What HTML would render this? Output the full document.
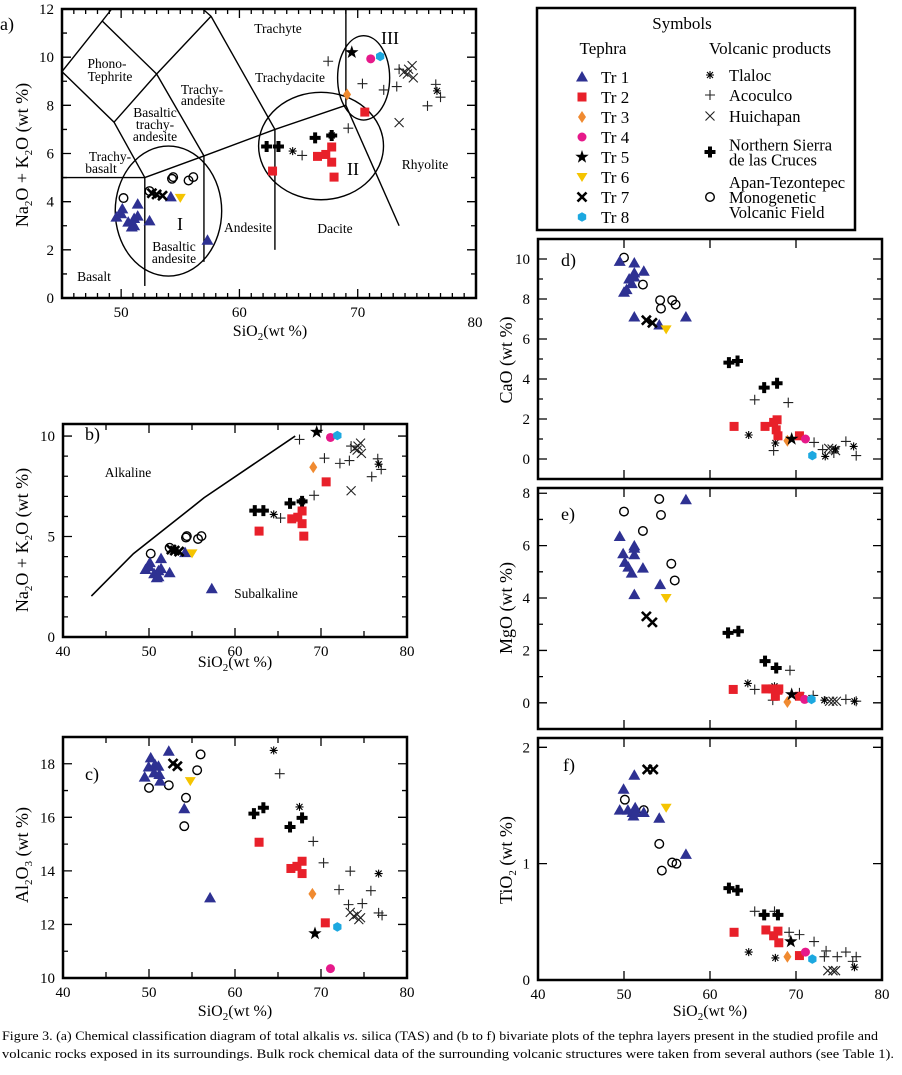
<!DOCTYPE html>
<html><head><meta charset="utf-8"><style>
html,body{margin:0;padding:0;background:#fff}
svg text{font-family:"Liberation Serif",serif;fill:#000}
</style></head><body>
<svg id="fig" xmlns="http://www.w3.org/2000/svg" width="902" height="1070" viewBox="0 0 902 1070">
<g id="legend">
<rect x="537" y="8" width="318" height="222" fill="none" stroke="#000" stroke-width="2.5"/>
<text x="682" y="29" font-size="17" text-anchor="middle">Symbols</text>
<text x="603" y="54" font-size="17" text-anchor="middle">Tephra</text>
<text x="770" y="54" font-size="17" text-anchor="middle">Volcanic products</text>
</g>
<g id="plots"></g>
<text x="2" y="1040" font-size="13" textLength="876" lengthAdjust="spacingAndGlyphs">Figure 3. (a) Chemical classification diagram of total alkalis <tspan font-style="italic">vs.</tspan> silica (TAS) and (b to f) bivariate plots of the tephra layers present in the studied profile and</text>
<text x="2" y="1058" font-size="13" textLength="892" lengthAdjust="spacingAndGlyphs">volcanic rocks exposed in its surroundings. Bulk rock chemical data of the surrounding volcanic structures were taken from several authors (see Table 1).</text>
</svg>
<script>
// ---- Data: [SiO2, value] pairs per series per panel ----
// Panel a & b: Na2O+K2O
const alk_tr1=[[49.6,3.36],[50.1,3.7],[50.0,3.5],[50.6,3.15],[50.9,2.95],[51.1,3.3],[51.4,3.9],[51.4,3.4],[51.1,3.0],[52.4,3.2],[54.2,4.2],[57.3,2.4]];
const alk_tr2=[[62.8,5.27],[66.6,5.88],[67.3,5.96],[67.8,6.27],[67.8,5.64],[68.0,5.02],[70.6,7.72]];
const alk_tr3=[[69.1,8.45]];
const alk_tr4=[[71.1,9.93]];
const alk_tr5=[[69.5,10.2]];
const alk_tr6=[[55.0,4.16]];
const alk_tr7=[[52.6,4.35],[53.0,4.3],[53.5,4.25]];
const alk_tr8=[[71.9,10.03]];
const alk_tlaloc=[[64.5,6.1],[76.7,8.6],[67.8,6.75]];
const alk_acoculco=[[67.5,9.83],[65.3,5.92],[69.2,7.05],[70.4,8.9],[72.2,8.64],[73.3,8.78],[73.5,9.5],[75.9,7.98],[76.6,8.87],[77.0,8.34]];
const alk_huichapan=[[73.5,7.28],[73.9,9.38],[74.3,9.5],[74.6,9.65],[74.7,9.14],[74.2,9.3]];
const alk_nsc=[[62.3,6.29],[63.3,6.29],[66.4,6.65],[67.8,6.75]];
const alk_apan=[[50.2,4.15],[52.4,4.44],[54.3,4.95],[54.4,5.02],[55.7,4.88],[56.1,5.02]];
// Panel c: Al2O3
const al_tr1=[[49.5,17.5],[49.96,17.88],[50.2,18.22],[50.7,17.97],[50.6,17.66],[51.1,17.91],[51.2,17.6],[51.3,17.35],[52.3,18.47],[54.1,16.32],[57.1,12.99]];
const al_tr2=[[62.8,15.07],[66.5,14.09],[67.2,14.17],[67.8,14.36],[67.8,13.9],[70.5,12.06]];
const al_tr3=[[69.0,13.14]];
const al_tr4=[[71.1,10.35]];
const al_tr5=[[69.3,11.66]];
const al_tr6=[[54.8,17.35]];
const al_tr7=[[52.8,18.01],[53.3,17.91]];
const al_tr8=[[71.9,11.91]];
const al_tlaloc=[[64.5,18.5],[67.5,16.39],[76.7,13.9]];
const al_acoculco=[[65.2,17.63],[69.1,15.1],[70.3,14.3],[73.4,13.99],[72.1,13.3],[75.8,13.26],[74.8,12.78],[73.2,12.74],[76.7,12.43],[77.1,12.34]];
const al_huichapan=[[73.4,12.45],[73.8,12.3],[74.4,12.18],[74.2,12.37],[74.6,12.25]];
const al_nsc=[[62.2,16.14],[63.3,16.36],[66.4,15.64],[67.8,15.98]];
const al_apan=[[50.0,17.1],[52.3,17.2],[54.3,16.73],[54.1,15.67],[55.6,17.76],[56.0,18.35]];
// Panel d: CaO
const ca_tr1=[[49.5,9.88],[50,8.34],[50.3,8.47],[50.6,9.0],[50.9,8.77],[51.2,9.8],[51.2,9.3],[51.2,9.1],[52.3,9.39],[51.2,7.1],[54.1,6.7],[57.2,7.1]];
const ca_tr2=[[62.8,1.63],[66.4,1.63],[67.4,1.83],[67.8,1.96],[67.7,1.46],[67.9,1.16],[70.4,1.16]];
const ca_tr3=[[69.0,0.91]];
const ca_tr4=[[71.1,1.0]];
const ca_tr5=[[69.5,1.0]];
const ca_tr6=[[54.9,6.48]];
const ca_tr7=[[52.6,6.94],[53.3,6.81]];
const ca_tr8=[[71.9,0.17]];
const ca_tlaloc=[[64.5,1.2],[67.6,0.8],[76.7,0.63],[73.4,0.13],[74.6,0.5]];
const ca_acoculco=[[65.2,2.96],[69.1,2.82],[67.4,0.42],[72.1,0.83],[75.8,0.88],[77.0,0.17],[74.4,0.3],[73.1,0.47]];
const ca_huichapan=[[74.2,0.5],[74.6,0.42],[73.8,0.53]];
const ca_nsc=[[62.2,4.82],[63.2,4.9],[66.3,3.57],[67.8,3.79]];
const ca_apan=[[50.0,10.07],[52.2,8.72],[54.2,7.94],[54.3,7.52],[55.6,7.94],[56.0,7.72]];
// Panel e: MgO
const mg_tr1=[[49.5,6.35],[49.9,5.69],[50.1,5.36],[50.5,5.18],[50.9,4.95],[51.2,5.99],[51.2,5.65],[51.2,5.9],[52.2,5.14],[51.2,4.13],[54.2,4.51],[57.2,7.75]];
const mg_tr2=[[62.7,0.51],[66.5,0.53],[67.3,0.53],[67.9,0.48],[67.6,0.25],[68.0,0.53],[70.4,0.25]];
const mg_tr3=[[69.0,0.03]];
const mg_tr4=[[71.0,0.13]];
const mg_tr5=[[69.5,0.32]];
const mg_tr6=[[54.9,4.0]];
const mg_tr7=[[52.6,3.3],[53.3,3.07]];
const mg_tr8=[[71.8,0.13]];
const mg_tlaloc=[[64.4,0.74],[67.5,0.63],[76.8,0.06],[73.3,0.1]];
const mg_acoculco=[[65.2,0.51],[69.3,1.24],[67.3,0.1],[72.0,0.28],[75.8,0.13],[77.0,0.06],[70.4,0.38]];
const mg_huichapan=[[73.9,0.06],[74.3,0.06],[74.7,0.06]];
const mg_nsc=[[62.1,2.67],[63.3,2.73],[66.4,1.59],[67.7,1.33]];
const mg_apan=[[50.0,7.3],[52.2,6.56],[54.1,7.78],[54.3,7.17],[55.5,5.31],[55.9,4.67]];
// Panel f: TiO2
const ti_tr1=[[49.5,1.46],[49.95,1.64],[50.45,1.46],[51.0,1.44],[51.3,1.48],[51.1,1.41],[51.4,1.44],[51.2,1.76],[52.3,1.44],[54.1,1.39],[57.2,1.08]];
const ti_tr2=[[62.8,0.41],[66.5,0.43],[67.4,0.38],[67.9,0.42],[68.0,0.32],[70.4,0.21]];
const ti_tr3=[[69.0,0.2]];
const ti_tr4=[[71.1,0.24]];
const ti_tr5=[[69.4,0.33]];
const ti_tr6=[[54.9,1.48]];
const ti_tr7=[[52.7,1.81],[53.4,1.81]];
const ti_tr8=[[71.9,0.18]];
const ti_tlaloc=[[64.5,0.24],[67.6,0.19],[76.8,0.11]];
const ti_acoculco=[[65.2,0.59],[67.5,0.59],[69.2,0.41],[70.4,0.39],[72.1,0.33],[73.5,0.25],[74.8,0.2],[75.8,0.24],[77.0,0.2],[73.3,0.2],[76.6,0.16]];
const ti_huichapan=[[73.7,0.08],[74.3,0.08],[74.6,0.08]];
const ti_nsc=[[62.2,0.79],[63.2,0.77],[66.3,0.56],[67.9,0.56]];
const ti_apan=[[50.1,1.55],[52.3,1.46],[54.1,1.17],[54.4,0.94],[55.6,1.01],[56.1,1.0]];
// TAS field boundaries and alkaline line
const tas_lines=[
 [[45,5],[52,5]],[[52,0.5],[52,5]],[[52,5],[57,5.9],[63,7],[69,8]],[[57,1.5],[57,5.9]],[[63,2],[63,7]],
 [[69,8],[69,12]],[[69,8],[73.5,3]],[[45,9.4],[49.4,7.3],[52,5]],[[49.4,7.3],[53,9.3],[57.6,11.7]],
 [[53,9.3],[57,5.9]],[[57.6,11.7],[63,7]],[[45,9.4],[48.4,11.5],[49.2,12]],[[48.4,11.5],[53,9.3]],[[57.6,11.7],[56.9,12]]];
const tas_ellipses=[[54.0,3.61,4.5,2.7],[66.9,6.31,5.28,2.23],[70.5,9.14,2.2,1.75]];
const alk_boundary=[[43.3,2.04],[48.2,4.15],[54.8,6.38],[56.4,6.93],[67.0,10.0]];

const NS='http://www.w3.org/2000/svg';
const root=document.getElementById('plots');
function mk(tag,attrs,parent){const e=document.createElementNS(NS,tag);for(const k in attrs)e.setAttribute(k,attrs[k]);(parent||root).appendChild(e);return e;}
const C={tr1:'#2e3192',tr2:'#e8202a',tr3:'#f08a30',tr4:'#e6198a',tr6:'#f5c400',tr8:'#1ca8e0'};
function marker(type,cx,cy,g){
 let e;
 if(type==='tr1'){e=mk('polygon',{points:`${cx},${cy-6} ${cx-6},${cy+4.5} ${cx+6},${cy+4.5}`,fill:C.tr1},g);}
 else if(type==='tr2'){e=mk('rect',{x:cx-4.5,y:cy-4.5,width:9,height:9,fill:C.tr2},g);}
 else if(type==='tr3'){e=mk('polygon',{points:`${cx},${cy-6} ${cx+4},${cy} ${cx},${cy+6} ${cx-4},${cy}`,fill:C.tr3},g);}
 else if(type==='tr4'){e=mk('circle',{cx:cx,cy:cy,r:4.5,fill:C.tr4},g);}
 else if(type==='tr5'){let p=[];for(let i=0;i<10;i++){const r=i%2?2.8:7,a=-Math.PI/2+i*Math.PI/5;p.push((cx+r*Math.cos(a)).toFixed(1)+','+(cy+r*Math.sin(a)).toFixed(1));}e=mk('polygon',{points:p.join(' '),fill:'#000'},g);}
 else if(type==='tr6'){e=mk('polygon',{points:`${cx-5.5},${cy-4} ${cx+5.5},${cy-4} ${cx},${cy+5}`,fill:C.tr6},g);}
 else if(type==='tr7'){e=mk('path',{d:`M${cx-4.5},${cy-4.5}L${cx+4.5},${cy+4.5}M${cx+4.5},${cy-4.5}L${cx-4.5},${cy+4.5}`,stroke:'#000','stroke-width':2.6,fill:'none'},g);}
 else if(type==='tr8'){let p=[];for(let i=0;i<6;i++){const a=i*Math.PI/3+Math.PI/6;p.push((cx+4.8*Math.cos(a)).toFixed(1)+','+(cy+4.8*Math.sin(a)).toFixed(1));}e=mk('polygon',{points:p.join(' '),fill:C.tr8},g);}
 else if(type==='tlaloc'){e=mk('path',{d:`M${cx-4},${cy}L${cx+4},${cy}M${cx},${cy-4}L${cx},${cy+4}M${cx-3},${cy-3}L${cx+3},${cy+3}M${cx+3},${cy-3}L${cx-3},${cy+3}`,stroke:'#000','stroke-width':1.1,fill:'none'},g);}
 else if(type==='acoculco'){e=mk('path',{d:`M${cx-5},${cy}L${cx+5},${cy}M${cx},${cy-5}L${cx},${cy+5}`,stroke:'#222','stroke-width':1.1,fill:'none'},g);}
 else if(type==='huichapan'){e=mk('path',{d:`M${cx-4.5},${cy-4.5}L${cx+4.5},${cy+4.5}M${cx+4.5},${cy-4.5}L${cx-4.5},${cy+4.5}`,stroke:'#222','stroke-width':1.1,fill:'none'},g);}
 else if(type==='nsc'){e=mk('path',{d:`M${cx-5.5},${cy}L${cx+5.5},${cy}M${cx},${cy-5.5}L${cx},${cy+5.5}`,stroke:'#000','stroke-width':4,fill:'none'},g);}
 else if(type==='apan'){e=mk('circle',{cx:cx,cy:cy,r:4.3,fill:'none',stroke:'#000','stroke-width':1.4},g);}
 return e;
}
function axis(P,name){
 const g=mk('g',{});
 
 
 P.sx=v=>P.x0+(v-P.xmin)/(P.xmax-P.xmin)*(P.x1-P.x0);
 P.sy=v=>P.y1-(v-P.ymin)/(P.ymax-P.ymin)*(P.y1-P.y0);
 P.g=g;
 const box=mk('rect',{x:P.x0,y:P.y0,width:P.x1-P.x0,height:P.y1-P.y0,fill:'none',stroke:'#000','stroke-width':2.5},g);
 
 
 let d='';
 for(const t of P.xt){const x=P.sx(t[0]),L=t[1];d+=`M${x},${P.y1}v${-L}M${x},${P.y0}v${L}`;}
 for(const t of P.yt){const y=P.sy(t[0]),L=t[1];d+=`M${P.x0},${y}h${L}M${P.x1},${y}h${-L}`;}
 mk('path',{d:d,stroke:'#000','stroke-width':1.3,fill:'none'},g);
 for(const v of P.xl){const t=mk('text',{x:P.sx(v),y:P.y1+19,'font-size':15,'text-anchor':'middle'},g);t.textContent=v;}
 for(const v of P.yl){const t=mk('text',{x:P.x0-8,y:P.sy(v)+5,'font-size':15,'text-anchor':'end'},g);t.textContent=v;}
 return g;
}
function ticks(a,b,step,major,ML,mL){const r=[];for(let v=a;v<=b+1e-9;v+=step){v=Math.round(v*1000)/1000;r.push([v,major.some(m=>Math.abs(m-v)<1e-6)?ML:mL]);}return r;}
function plotSeries(P,type,data,pname){
 const g=mk('g',{},P.g);
 
 
 for(const p of data){const m=marker(type,P.sx(p[0]),P.sy(p[1]),g);}
}
function label(txt,x,y,size,parent,name,anchor){const t=mk('text',{x:x,y:y,'font-size':size,'text-anchor':anchor||'middle'},parent);t.textContent=txt;return t;}
function richLabel(html,x,y,size,rot,name){const t=mk('text',{x:x,y:y,'font-size':size,'text-anchor':'middle'});if(rot)t.setAttribute('transform',`rotate(-90 ${x} ${y})`);t.innerHTML=html;return t;}
const SUB=n=>`<tspan font-size="11" dy="4">${n}</tspan><tspan dy="-4">`;
const ALK=`Na${SUB(2)}O + K${SUB(2)}O (wt %)</tspan></tspan>`;
const SIO=`SiO${SUB(2)}(wt %)</tspan>`;

// Panel a
const A={x0:62,x1:476,y0:9,y1:298,xmin:45,xmax:80,ymin:0,ymax:12,
 xt:ticks(45,80,1,[50,60,70],9,5),yt:ticks(0,12,1,[0,2,4,6,8,10,12],9,5),xl:[50,60,70],yl:[0,2,4,6,8,10,12]};
axis(A,'panel-a-tas');
for(const ln of tas_lines){const l=mk('polyline',{points:ln.map(p=>A.sx(p[0])+','+A.sy(p[1])).join(' '),fill:'none',stroke:'#000','stroke-width':1.4},A.g);}
for(const e of tas_ellipses){const el=mk('ellipse',{cx:A.sx(e[0]),cy:A.sy(e[1]),rx:A.sx(e[0]+e[2])-A.sx(e[0]),ry:A.sy(e[1])-A.sy(e[1]+e[3]),fill:'none',stroke:'#000','stroke-width':1.4},A.g);}
label('80',475,327,15,A.g,'x-tick-label');
[['Trachyte',278,33],['Phono-',107,68],['Tephrite',110,81],['Trachy-',202,94],['andesite',203,105],['Basaltic',155,117],['trachy-',155,129],['andesite',155,141],['Trachydacite',290,82],['Trachy-',110,161],['basalt',101,173],['Basaltic',174,251],['andesite',174,263],['Andesite',248,232],['Dacite',335,233],['Rhyolite',425,169],['Basalt',94,281]].forEach(t=>label(t[0],t[1],t[2],13.5,A.g,'tas-field-label'));
label('I',180,230,18,A.g,'group-label-I');label('II',353,175,18,A.g,'group-label-II');label('III',390,44,18,A.g,'group-label-III');
label('a)',0,30,18,A.g,'panel-a-label','start');
richLabel(ALK,28,155,18,true,'panel-a-y-title');
richLabel(SIO,270,336,16,false,'panel-a-x-title');

// Panel b
const B={x0:63,x1:407,y0:424,y1:637,xmin:40,xmax:80,ymin:0,ymax:10.6,
 xt:ticks(40,80,5,[40,50,60,70,80],9,6),yt:ticks(0,10,1,[0,5,10],9,5),xl:[40,50,60,70,80],yl:[0,5,10]};
axis(B,'panel-b-alkali');
{const l=mk('polyline',{points:alk_boundary.map(p=>B.sx(p[0])+','+B.sy(p[1])).join(' '),fill:'none',stroke:'#000','stroke-width':1.6},B.g);}
label('Alkaline',128,477,13.5,B.g,'alkaline-label');label('Subalkaline',266,598,13.5,B.g,'subalkaline-label');
label('b)',85,440,18,B.g,'panel-b-label','start');
richLabel(ALK,28,540,18,true,'panel-b-y-title');
richLabel(SIO,235,667,16,false,'panel-b-x-title');

// Panel c
const Cc={x0:63,x1:407,y0:737,y1:978,xmin:40,xmax:80,ymin:10,ymax:19,
 xt:ticks(40,80,5,[40,50,60,70,80],9,6),yt:ticks(10,19,1,[10,12,14,16,18],9,5),xl:[40,50,60,70,80],yl:[10,12,14,16,18]};
axis(Cc,'panel-c-al2o3');
label('c)',85,780,18,Cc.g,'panel-c-label','start');
richLabel(`Al${SUB(2)}O${SUB(3)} (wt %)</tspan></tspan>`,28,855,18,true,'panel-c-y-title');
richLabel(SIO,235,1016,16,false,'panel-c-x-title');

// Panel d
const D={x0:538,x1:882,y0:239,y1:479,xmin:40,xmax:80,ymin:-1,ymax:11,
 xt:ticks(50,70,10,[50,60,70],9,9),yt:ticks(0,10,1,[0,2,4,6,8,10],9,5),xl:[],yl:[0,2,4,6,8,10]};
axis(D,'panel-d-cao');
label('d)',561,266,18,D.g,'panel-d-label','start');
richLabel('CaO (wt %)',512,360,18,true,'panel-d-y-title');

// Panel e
const E={x0:538,x1:882,y0:488,y1:729,xmin:40,xmax:80,ymin:-1,ymax:8.2,
 xt:ticks(50,70,10,[50,60,70],9,9),yt:ticks(0,8,1,[0,2,4,6,8],9,5),xl:[],yl:[0,2,4,6,8]};
axis(E,'panel-e-mgo');
label('e)',561,520,18,E.g,'panel-e-label','start');
richLabel('MgO (wt %)',512,608,18,true,'panel-e-y-title');

// Panel f
const F={x0:538,x1:882,y0:738,y1:980,xmin:40,xmax:80,ymin:0,ymax:2.08,
 xt:ticks(50,70,10,[50,60,70],9,9),yt:ticks(0,2,1,[0,1,2],9,9),xl:[40,50,60,70,80],yl:[0,1,2]};
axis(F,'panel-f-tio2');
label('f)',563,771,18,F.g,'panel-f-label','start');
richLabel(`TiO${SUB(2)} (wt %)</tspan>`,512,860,18,true,'panel-f-y-title');
richLabel(SIO,710,1016,16,false,'panel-f-x-title');

const order=['acoculco','huichapan','tlaloc','apan','nsc','tr1','tr2','tr3','tr4','tr5','tr6','tr7','tr8'];
const sets={
 a:{tr1:alk_tr1,tr2:alk_tr2,tr3:alk_tr3,tr4:alk_tr4,tr5:alk_tr5,tr6:alk_tr6,tr7:alk_tr7,tr8:alk_tr8,tlaloc:alk_tlaloc,acoculco:alk_acoculco,huichapan:alk_huichapan,nsc:alk_nsc,apan:alk_apan},
 c:{tr1:al_tr1,tr2:al_tr2,tr3:al_tr3,tr4:al_tr4,tr5:al_tr5,tr6:al_tr6,tr7:al_tr7,tr8:al_tr8,tlaloc:al_tlaloc,acoculco:al_acoculco,huichapan:al_huichapan,nsc:al_nsc,apan:al_apan},
 d:{tr1:ca_tr1,tr2:ca_tr2,tr3:ca_tr3,tr4:ca_tr4,tr5:ca_tr5,tr6:ca_tr6,tr7:ca_tr7,tr8:ca_tr8,tlaloc:ca_tlaloc,acoculco:ca_acoculco,huichapan:ca_huichapan,nsc:ca_nsc,apan:ca_apan},
 e:{tr1:mg_tr1,tr2:mg_tr2,tr3:mg_tr3,tr4:mg_tr4,tr5:mg_tr5,tr6:mg_tr6,tr7:mg_tr7,tr8:mg_tr8,tlaloc:mg_tlaloc,acoculco:mg_acoculco,huichapan:mg_huichapan,nsc:mg_nsc,apan:mg_apan},
 f:{tr1:ti_tr1,tr2:ti_tr2,tr3:ti_tr3,tr4:ti_tr4,tr5:ti_tr5,tr6:ti_tr6,tr7:ti_tr7,tr8:ti_tr8,tlaloc:ti_tlaloc,acoculco:ti_acoculco,huichapan:ti_huichapan,nsc:ti_nsc,apan:ti_apan}};
const panels=[['a',A,sets.a],['b',B,sets.a],['c',Cc,sets.c],['d',D,sets.d],['e',E,sets.e],['f',F,sets.f]];
for(const [n,P,S] of panels){for(const k of order)plotSeries(P,k,S[k],'panel-'+n);}

// Legend entries
const lg=document.getElementById('legend');
const trY=[77,97,117,137,157,177,197,217];
['tr1','tr2','tr3','tr4','tr5','tr6','tr7','tr8'].forEach((k,i)=>{
 const m=marker(k,582,trY[i],lg);
 
 
 label('Tr '+(i+1),601,trY[i]+6,17,lg,'legend-entry-'+k,'start');
});
[['tlaloc',75,['Tlaloc']],['acoculco',95,['Acoculco']],['huichapan',116,['Huichapan']],['nsc',152,['Northern Sierra','de las Cruces']],['apan',197,['Apan-Tezontepec','Monogenetic','Volcanic Field']]].forEach(r=>{
 const m=marker(r[0],710,r[1],lg);
 
 
 const n=r[2].length;
 r[2].forEach((s,j)=>label(s,729,r[1]+6+(j-(n-1)/2)*15,16.5,lg,'legend-entry-'+r[0],'start'));
});
</script>
</body></html>
